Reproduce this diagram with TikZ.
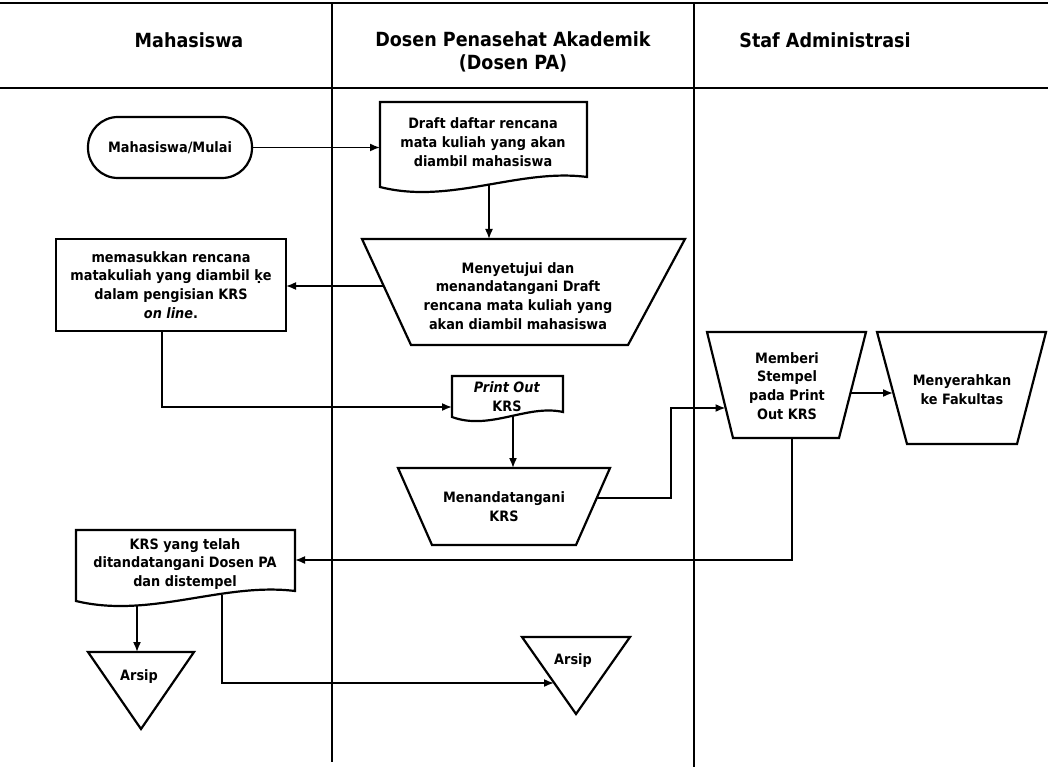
\documentclass[tikz,border=0pt]{standalone}
\usepackage{fontspec}
\setmainfont{DejaVu Sans Condensed}[BoldFont={DejaVu Sans Condensed Bold},ItalicFont={DejaVu Sans Condensed Oblique},BoldItalicFont={DejaVu Sans Condensed Bold Oblique}]
\usetikzlibrary{arrows.meta}
\pgfdeclarelayer{bg}
\pgfsetlayers{bg,main}
\begin{document}
\begin{tikzpicture}[x=1pt,y=-1pt,
  shp/.style={draw, line width=2.2pt, line join=miter, fill=white},
  conn/.style={line width=1.6pt, -{Latex[length=10pt,width=8pt]}},
  lane/.style={line width=1.1pt},
  lbl/.style={font=\fontsize{14.3}{18.8}\selectfont\bfseries, align=center, inner sep=0pt},
  hdr/.style={font=\fontsize{19.5}{23.5}\selectfont\bfseries, align=center, inner sep=0pt},
]
\useasboundingbox (0,0) rectangle (1048,767);
% lanes
\draw[line width=2.2pt] (0,3) -- (1048,3);
\draw[line width=2.2pt] (0,88) -- (1048,88);
\draw[lane] (332,3) -- (332,762);
\draw[lane] (694,3) -- (694,767);
\node[hdr] (h1) at (189,40) {Mahasiswa};
\node[hdr] (h2) at (513,52) {Dosen Penasehat Akademik\\(Dosen PA)};
\node[hdr] (h3) at (825,40) {Staf Administrasi};

% terminator
\node[shp, rounded corners=30pt, minimum width=164pt, minimum height=61pt, lbl] (start) at (170,147.5) {Mahasiswa/Mulai};

% draft document
\draw[shp] (380,102) -- (587,102) -- (587,177) .. controls (519,168) and (450,205) .. (380,187) -- cycle;
\node[lbl] (draft) at (483,142) {Draft daftar rencana\\mata kuliah yang akan\\diambil mahasiswa};

% approve (manual operation)
\draw[shp] (362,239) -- (685,239) -- (628,345) -- (411,345) -- cycle;
\node[lbl] (appr) at (518,296) {Menyetujui dan\\menandatangani Draft\\rencana mata kuliah yang\\akan diambil mahasiswa};

% input rectangle
\node[shp, minimum width=230pt, minimum height=92pt, lbl] (input) at (171,285) {memasukkan rencana\\matakuliah yang diambil ḳe\\dalam pengisian KRS\\\textit{on line}.};

% print out document
\draw[shp] (452,376) -- (563,376) -- (563,412) .. controls (527,404) and (490,431) .. (452,417) -- cycle;
\node[lbl] (print) at (507,397) {\textit{Print Out}\\KRS};

% sign KRS
\draw[shp] (398,468) -- (610,468) -- (576,545) -- (432,545) -- cycle;
\node[lbl] (sign) at (504,507) {Menandatangani\\KRS};

% stamp
\draw[shp] (707,332) -- (866,332) -- (839,438) -- (733,438) -- cycle;
\node[lbl] (stamp) at (787,386) {Memberi\\Stempel\\pada Print\\Out KRS};

% hand over
\draw[shp] (877,332) -- (1046,332) -- (1017,444) -- (907,444) -- cycle;
\node[lbl] (hand) at (962,390) {Menyerahkan\\ke Fakultas};

% signed KRS document
\draw[shp] (76,530) -- (295,530) -- (295,591) .. controls (223,582) and (150,619) .. (76,601) -- cycle;
\node[lbl] (krs) at (185,564) {KRS yang telah\\ditandatangani Dosen PA\\dan distempel};

% archives
\draw[shp] (88,652) -- (194,652) -- (141,729) -- cycle;
\node[lbl] (arsipA) at (139,677) {Arsip};
\draw[shp] (522,637) -- (630,637) -- (576,714) -- cycle;
\node[lbl] (arsipB) at (573,661) {Arsip};

% connection points
\coordinate (draftOut) at (489,185);
\coordinate (apprIn) at (489,239);
\coordinate (apprOut) at (384,286);
\coordinate (inputIn) at (286,286);
\coordinate (inputOut) at (162,331);
\coordinate (printIn) at (452,407);
\coordinate (printOut) at (513,415);
\coordinate (signIn) at (513,468);
\coordinate (signOut) at (597,498);
\coordinate (stampIn) at (725.5,408);
\coordinate (stampOut) at (850,393);
\coordinate (handIn) at (893,393);
\coordinate (stampBot) at (792,438);
\coordinate (krsIn) at (295,560);
\coordinate (krsOutA) at (137,600);
\coordinate (arsipAIn) at (137,652);
\coordinate (krsOutB) at (222,595);
\coordinate (arsipBIn) at (554,683);

\begin{pgfonlayer}{bg}
\draw[conn] (start.east) -- (380,147.5);
\draw[conn] (draftOut) -- (apprIn);
\draw[conn] (apprOut) -- (inputIn);
\draw[conn] (inputOut) -- (inputOut |- printIn) -- (printIn);
\draw[conn] (printOut) -- (signIn);
\draw[conn] (signOut) -- (671,498) -- (671,408) -- (stampIn);
\draw[conn] (stampOut) -- (handIn);
\draw[conn] (stampBot) -- (stampBot |- krsIn) -- (krsIn);
\draw[conn] (krsOutA) -- (arsipAIn);
\draw[conn] (krsOutB) -- (krsOutB |- arsipBIn) -- (arsipBIn);
\end{pgfonlayer}
\end{tikzpicture}
\end{document}
